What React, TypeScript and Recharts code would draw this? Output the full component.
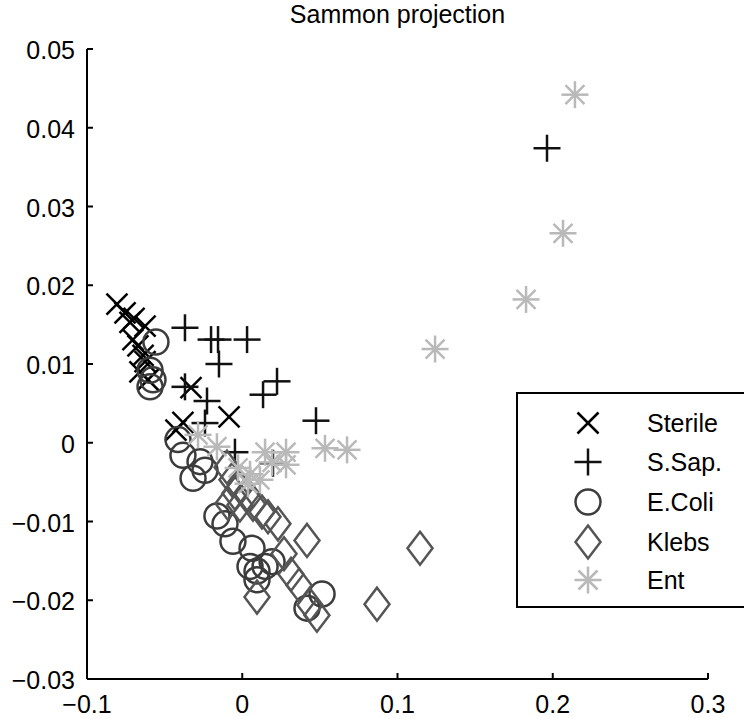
import React from 'react';
import { ScatterChart, Scatter, XAxis, YAxis, Legend } from 'recharts';

// Sammon projection coordinates per culture class: [x, y]
const sterile: [number, number][] = [
  [-0.0807, 0.0176], [-0.0755, 0.0165], [-0.0697, 0.0158], [-0.0626, 0.0148],
  [-0.0723, 0.0153], [-0.0704, 0.0131], [-0.0672, 0.0123], [-0.0639, 0.0111],
  [-0.0626, 0.0103], [-0.0659, 0.009], [-0.0607, 0.008], [-0.033, 0.007],
  [-0.0085, 0.0033], [-0.0427, 0.0016], [-0.0382, 0.0026],
];

const sSap: [number, number][] = [
  [-0.0369, 0.0146], [-0.0201, 0.0131], [-0.0156, 0.0131], [0.0031, 0.0131],
  [-0.015, 0.01], [-0.0369, 0.0071], [-0.0227, 0.0053], [0.0134, 0.0061],
  [0.0224, 0.0078], [0.0475, 0.0028], [0.1963, 0.0374], [-0.024, 0.0025],
  [-0.0047, -0.0012], [0.0198, -0.0026],
];

const eColi: [number, number][] = [
  [-0.0556, 0.0128], [-0.0594, 0.0092], [-0.0575, 0.008], [-0.0594, 0.0071],
  [-0.0414, 0.0004], [-0.0382, -0.0016], [-0.0317, -0.0045], [-0.0272, -0.0024],
  [-0.0163, -0.0093], [-0.0111, -0.0103], [-0.006, -0.0125], [0.0063, -0.0134],
  [0.005, -0.0157], [0.0095, -0.0163], [0.0147, -0.0157], [0.0192, -0.0151],
  [0.0095, -0.0174], [0.0514, -0.0192], [0.0417, -0.021], [-0.024, -0.0035],
];

const klebs: [number, number][] = [
  [-0.0098, -0.0031], [-0.0066, -0.0047], [-0.0015, -0.0056], [0.0031, -0.0065],
  [0.0069, -0.0078], [0.0127, -0.0088], [0.0166, -0.0094], [0.023, -0.0103],
  [0.0417, -0.0124], [0.0269, -0.0141], [0.0314, -0.0167], [0.0366, -0.0181],
  [0.0436, -0.0206], [0.0481, -0.0219], [0.0095, -0.0196], [0.0868, -0.0205],
  [0.1145, -0.0134], [-0.0015, -0.0079], [-0.0092, -0.0077], [-0.0047, -0.0064],
];

const ent: [number, number][] = [
  [0.2143, 0.0442], [0.2066, 0.0266], [0.1828, 0.0182], [0.1242, 0.0119],
  [0.0675, -0.0009], [0.0533, -0.0007], [0.0282, -0.0012], [0.0282, -0.0028],
  [0.0147, -0.0012], [-0.0285, 0.001], [-0.0163, -0.0005], [-0.0027, -0.0032],
  [0.005, -0.004], [0.0114, -0.0047], [0.0037, -0.0052], [0.0192, -0.0025],
];

const xTicks = [-0.1, 0, 0.1, 0.2, 0.3];
const yTicks = [-0.03, -0.02, -0.01, 0, 0.01, 0.02, 0.03, 0.04, 0.05];
const seriesNames = ['Sterile', 'S.Sap.', 'E.Coli', 'Klebs', 'Ent'];
const chartTitle = 'Sammon projection';

const FONT = '"Liberation Sans", Arial, Helvetica, sans-serif';
const FS = 25;

const toPoints = (arr: [number, number][]) => arr.map(([x, y]) => ({ x, y }));

const fmt = (v: number) => (v < 0 ? '\u2212' : '') + String(Math.abs(v));

// Marker glyphs
const XMark = ({ cx, cy, s = 10.5 }: any) => (
  <g stroke="#000" strokeWidth={2.5} fill="none">
    <line x1={cx - s} y1={cy - s} x2={cx + s} y2={cy + s} />
    <line x1={cx - s} y1={cy + s} x2={cx + s} y2={cy - s} />
  </g>
);

const PlusMark = ({ cx, cy, s = 13.5 }: any) => (
  <g stroke="#111" strokeWidth={2.5} fill="none">
    <line x1={cx - s} y1={cy} x2={cx + s} y2={cy} />
    <line x1={cx} y1={cy - s} x2={cx} y2={cy + s} />
  </g>
);

const CircleMark = ({ cx, cy }: any) => (
  <circle cx={cx} cy={cy} r={12.5} stroke="#3c3c3c" strokeWidth={2.5} fill="none" />
);

const DiamondMark = ({ cx, cy }: any) => (
  <path
    d={`M${cx},${cy - 16.5} L${cx + 12.5},${cy} L${cx},${cy + 16.5} L${cx - 12.5},${cy} Z`}
    stroke="#555" strokeWidth={2.5} fill="none"
  />
);

const StarMark = ({ cx, cy }: any) => {
  const s = 13.5;
  const d = 9.5;
  return (
    <g stroke="#b9b9b9" strokeWidth={2.5} fill="none">
      <line x1={cx - s} y1={cy} x2={cx + s} y2={cy} />
      <line x1={cx} y1={cy - s} x2={cx} y2={cy + s} />
      <line x1={cx - d} y1={cy - d} x2={cx + d} y2={cy + d} />
      <line x1={cx - d} y1={cy + d} x2={cx + d} y2={cy - d} />
    </g>
  );
};

const markers = [XMark, PlusMark, CircleMark, DiamondMark, StarMark];

// y axis sits at x = 87; ticks point into the plot
const YTick = ({ y, payload }: any) => (
  <g>
    <line x1={87} x2={93} y1={y} y2={y} stroke="#000" strokeWidth={2} />
    <text x={75} y={y + 10} textAnchor="end" fontSize={FS} fontFamily={FONT} fill="#000">
      {fmt(payload.value)}
    </text>
  </g>
);

// x axis sits at y = 679
const XTick = ({ x, payload }: any) => (
  <g>
    <line x1={x} x2={x} y1={679} y2={673} stroke="#000" strokeWidth={2} />
    <text x={x} y={713} textAnchor="middle" fontSize={FS} fontFamily={FONT} fill="#000">
      {fmt(payload.value)}
    </text>
  </g>
);

const LegendBox = () => {
  const rows = [31, 70, 110, 150, 188];
  return (
    <svg width={232} height={216} style={{ display: 'block' }}>
      <rect x={1} y={1} width={240} height={214} fill="#fff" stroke="#000" strokeWidth={2} />
      {seriesNames.map((name, i) => {
        const M = markers[i];
        return (
          <g key={name}>
            <M cx={72} cy={rows[i]} />
            <text x={131} y={rows[i] + 9} fontSize={FS} fontFamily={FONT} fill="#000">
              {name}
            </text>
          </g>
        );
      })}
    </svg>
  );
};

const seriesData = [sterile, sSap, eColi, klebs, ent];

export default function App() {
  return (
    <div style={{ position: 'absolute', left: 0, top: 0, width: 744, height: 719, overflow: 'hidden', background: '#fff' }}>
      <ScatterChart
        width={744}
        height={719}
        margin={{ top: 49, right: 36, bottom: 30, left: 77 }}
      >
        <XAxis
          type="number"
          dataKey="x"
          domain={[-0.1, 0.3]}
          ticks={xTicks}
          height={10}
          tickLine={false}
          tick={<XTick />}
          axisLine={{ stroke: '#000', strokeWidth: 2 }}
          allowDataOverflow
        />
        <YAxis
          type="number"
          dataKey="y"
          domain={[-0.03, 0.05]}
          ticks={yTicks}
          width={10}
          tickLine={false}
          tick={<YTick />}
          axisLine={{ stroke: '#000', strokeWidth: 2 }}
          allowDataOverflow
        />
        <Legend
          layout="vertical"
          align="center"
          verticalAlign="middle"
          wrapperStyle={{ position: 'absolute', left: 516, top: 392, width: 232, height: 216 }}
          content={() => <LegendBox />}
        />
        {seriesData.map((arr, i) => {
          const M = markers[i];
          return (
            <Scatter
              key={seriesNames[i]}
              name={seriesNames[i]}
              data={toPoints(arr)}
              isAnimationActive={false}
              shape={(p: any) => <M cx={p.cx} cy={p.cy} />}
            />
          );
        })}
      </ScatterChart>
      <svg
        width={744}
        height={40}
        style={{ position: 'absolute', left: 0, top: 0, pointerEvents: 'none' }}
      >
        <text x={397.5} y={23} textAnchor="middle" fontSize={FS} fontFamily={FONT} fill="#000">
          {chartTitle}
        </text>
      </svg>
    </div>
  );
}
